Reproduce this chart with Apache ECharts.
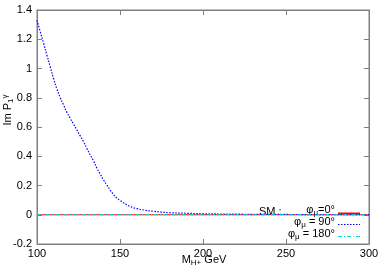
<!DOCTYPE html>
<html lang="en">
<head>
  <meta charset="UTF-8">
  <title>Im P1 gamma</title>
  <style>
    html, body, #chart {
      margin: 0;
      padding: 0;
      width: 100%;
      height: 100%;
      background: #fff;
    }
  </style>
</head>
<body>
<div id="chart"></div>
<script src="https://cdn.jsdelivr.net/npm/echarts@6/dist/echarts.min.js"></script>
<script>
  // M_H+ (GeV)
  var massBlue = [100, 102, 104, 106, 108, 110, 112, 114, 116, 118, 120, 122, 124, 126, 128,
    130, 132, 134, 136, 138, 140, 142, 144, 146, 148, 150, 152, 154, 156, 158, 160, 165, 170,
    175, 180, 190, 200, 220, 250, 280, 300];
  // phi_mu = 90 deg
  var imBlue = [1.33, 1.25, 1.17, 1.09, 1.01, 0.93, 0.86, 0.80, 0.75, 0.70, 0.66, 0.62, 0.58,
    0.54, 0.50, 0.455, 0.41, 0.37, 0.32, 0.28, 0.24, 0.205, 0.17, 0.14, 0.115, 0.098, 0.082,
    0.068, 0.057, 0.048, 0.042, 0.031, 0.024, 0.018, 0.014, 0.01, 0.007, 0.004, 0.002, 0.001,
    0.001];
  // phi_mu = 0 and 180 deg
  var massFlat = [100, 150, 200, 250, 300];
  var imRed = [0, 0, 0, 0, 0];
  var imCyan = [0, 0, 0, 0, 0];

  var xTicks = [100, 150, 200, 250, 300];
  var yTicks = [-0.2, 0, 0.2, 0.4, 0.6, 0.8, 1, 1.2, 1.4];

  function pairs(xs, ys) {
    return xs.map(function (x, i) { return [x, ys[i]]; });
  }

  var chart = echarts.init(document.getElementById('chart'));
  var font = 'Liberation Sans, Arial, sans-serif';
  var axisGray = '#808080';

  var baseX = {
    type: 'value', min: xTicks[0], max: xTicks[xTicks.length - 1], interval: 50,
    axisLine: { show: true, onZero: false, lineStyle: { color: axisGray, width: 1 } },
    axisTick: { show: true, inside: true, length: 5, lineStyle: { color: axisGray } },
    splitLine: { show: false }
  };
  var baseY = {
    type: 'value', min: yTicks[0], max: yTicks[yTicks.length - 1], interval: 0.2,
    axisLine: { show: true, onZero: false, lineStyle: { color: axisGray, width: 1 } },
    axisTick: { show: true, inside: true, length: 5, lineStyle: { color: axisGray } },
    splitLine: { show: false }
  };

  var subRich = {
    s: { fontSize: 8, fontFamily: font, fill: '#000', verticalAlign: 'bottom', padding: [6, 0, 0, 0] },
    u: { fontSize: 8, fontFamily: font, fill: '#000', verticalAlign: 'top', padding: [0, 0, 5, 0] },
    n: { fontSize: 11, fontFamily: font, fill: '#000' }
  };

  chart.setOption({
    animation: false,
    grid: {
      left: 37, right: 13, top: 10, bottom: 23, outerBoundsMode: 'none', containLabel: false,
      show: true, borderColor: axisGray, borderWidth: 1, backgroundColor: 'transparent'
    },
    xAxis: [
      Object.assign({}, baseX, {
        position: 'bottom',
        axisLabel: { color: '#000', fontSize: 11, fontFamily: font, margin: 4 }
      }),
      Object.assign({}, baseX, { position: 'top', axisLabel: { show: false } })
    ],
    yAxis: [
      Object.assign({}, baseY, {
        position: 'left',
        axisLabel: {
          color: '#000', fontSize: 11, fontFamily: font, margin: 5,
          formatter: function (v) { return String(Math.round(v * 10) / 10); }
        }
      }),
      Object.assign({}, baseY, { position: 'right', axisLabel: { show: false } })
    ],
    series: [
      {
        type: 'line', name: 'red', data: pairs(massFlat, imRed), showSymbol: false,
        lineStyle: { color: '#ff0000', width: 1.2 }, z: 2
      },
      {
        type: 'line', name: 'blue', data: pairs(massBlue, imBlue), showSymbol: false, smooth: 0.4,
        lineStyle: { color: '#0000ff', width: 1.2, type: [1.5, 1.5] }, z: 3
      },
      {
        type: 'line', name: 'cyan', data: pairs(massFlat, imCyan), showSymbol: false,
        lineStyle: { color: '#00e0e0', width: 1.2, type: [4, 2, 1, 2] }, z: 4
      }
    ],
    graphic: [
      // axis titles
      { type: 'text', x: 204, y: 260, style: {
        text: '{n|M}{s|H+}{n| GeV}', rich: subRich, align: 'center', verticalAlign: 'middle' } },
      { type: 'text', x: 8, y: 110, rotation: Math.PI / 2, style: {
        text: '{n|Im P}{s|1}{u|γ}', rich: subRich, align: 'center', verticalAlign: 'middle' } },
      // key
      { type: 'text', left: 259, top: 206, style: { text: 'SM :', font: '11px ' + font, fill: '#000' } },
      { type: 'text', right: 47, top: 204, style: {
        text: '{n|φ}{s|μ}{n|=0°}', rich: subRich, align: 'right' } },
      { type: 'text', right: 47, top: 216, style: {
        text: '{n|φ}{s|μ}{n| = 90°}', rich: subRich, align: 'right' } },
      { type: 'text', right: 47, top: 228, style: {
        text: '{n|φ}{s|μ}{n| = 180°}', rich: subRich, align: 'right' } },
      { type: 'line', shape: { x1: 338, y1: 213.5, x2: 360, y2: 213.5 },
        style: { stroke: '#ff0000', lineWidth: 2 } },
      { type: 'line', shape: { x1: 338, y1: 224.5, x2: 360, y2: 224.5 },
        style: { stroke: '#0000ff', lineWidth: 1.2, lineDash: [1.5, 1.5] } },
      { type: 'line', shape: { x1: 338, y1: 236.5, x2: 360, y2: 236.5 },
        style: { stroke: '#00e0e0', lineWidth: 1.2, lineDash: [4, 2, 1, 2] } }
    ]
  });
</script>
</body>
</html>
